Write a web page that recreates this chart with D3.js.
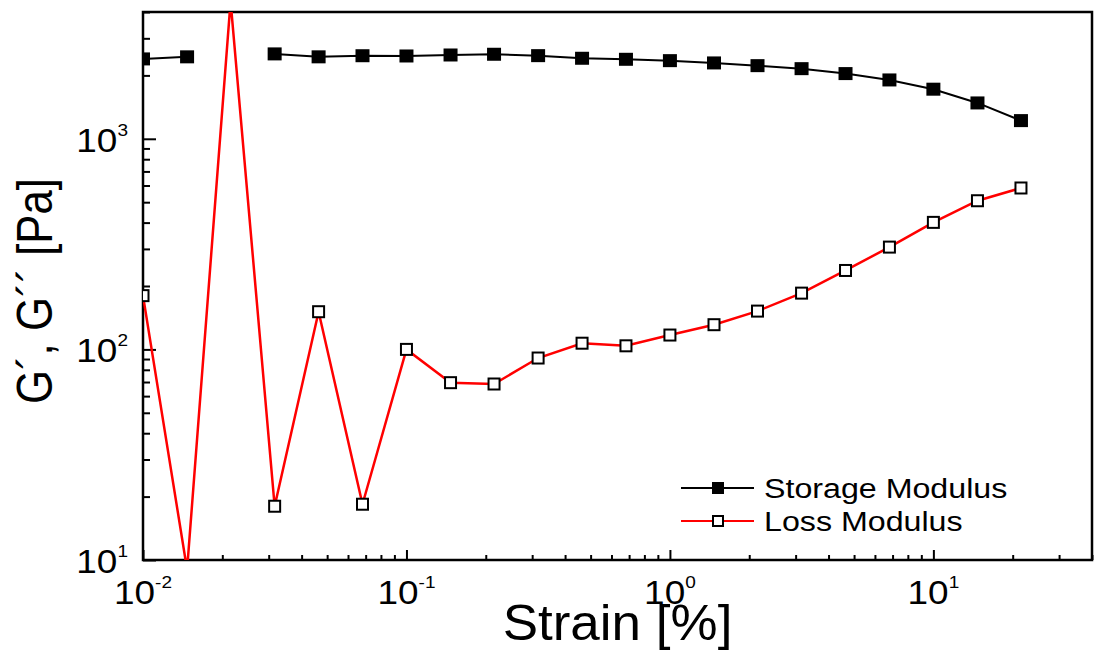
<!DOCTYPE html>
<html>
<head>
<meta charset="utf-8">
<script src="https://cdn.jsdelivr.net/npm/d3@7"></script>
<style>
  body { margin: 0; background: #fff; }
  svg { display: block; font-family: "Liberation Sans", Arial, sans-serif; }
</style>
</head>
<body>
<svg class="chart"></svg>
<script>
// strain sweep, G' and G''
var strain = [0.01, 0.0147, 0.0215, 0.0316, 0.0464, 0.0681, 0.1, 0.147, 0.215, 0.316, 0.464,
    0.681, 1, 1.47, 2.15, 3.16, 4.64, 6.81, 10, 14.7, 21.5];
var storage = [2395, 2450, null, 2530, 2450, 2480, 2473, 2500, 2520, 2482, 2412,
    2385, 2350, 2292, 2225, 2153, 2040, 1903, 1720, 1480, 1220];
var loss = [180, 9, 4500, 18.0, 151, 18.4, 100, 69.5, 68.5, 91, 107,
    104, 117, 131, 152, 185, 237, 306, 401, 508, 584];

var xMajor = [0.01, 0.1, 1, 10];
var xMinor = [0.02, 0.03, 0.04, 0.05, 0.06, 0.07, 0.08, 0.09, 0.2, 0.3, 0.4, 0.5, 0.6, 0.7, 0.8, 0.9,
    2, 3, 4, 5, 6, 7, 8, 9, 20, 30, 40];
var yMajor = [10, 100, 1000];
var yMinor = [20, 30, 40, 50, 60, 70, 80, 90, 200, 300, 400, 500, 600, 700, 800, 900, 2000, 3000, 4000];
var seriesNames = ["Storage Modulus", "Loss Modulus"];

var width = 1094, height = 653;
var pLeft = 143, pRight = 1092, pTop = 12, pBottom = 560;
var stretch = 1.12; // the original figure is a bit wider than tall

var svg = d3.select(".chart")
    .attr("width", width)
    .attr("height", height);

var x = d3.scaleLog().domain([0.01, 40]).range([pLeft, pRight]);
var y = d3.scaleLog().domain([10, 4000]).range([pBottom, pTop]);

svg.append("clipPath")
    .attr("id", "plot")
    .append("rect")
    .attr("x", pLeft).attr("y", pTop)
    .attr("width", pRight - pLeft).attr("height", pBottom - pTop);

// inward ticks, labels added by hand below
var xAxis = svg.append("g")
    .attr("transform", "translate(0," + pBottom + ")")
    .call(d3.axisBottom(x).tickValues(xMajor.concat(xMinor)).tickFormat("").tickSizeOuter(0)
        .tickSizeInner(-5));
xAxis.selectAll(".tick line")
    .attr("y2", function (d) { return xMajor.indexOf(d) >= 0 ? -10 : -5; })
    .attr("stroke-width", 2);

var yAxis = svg.append("g")
    .attr("transform", "translate(" + pLeft + ",0)")
    .call(d3.axisLeft(y).tickValues(yMajor.concat(yMinor)).tickFormat("").tickSizeOuter(0)
        .tickSizeInner(-7));
yAxis.selectAll(".tick line")
    .attr("x2", function (d) { return yMajor.indexOf(d) >= 0 ? 13 : 7; })
    .attr("stroke-width", 2);
svg.selectAll(".domain").remove();

// frame
svg.append("rect")
    .attr("x", pLeft).attr("y", pTop)
    .attr("width", pRight - pLeft).attr("height", pBottom - pTop)
    .attr("fill", "none")
    .attr("stroke", "#000")
    .attr("stroke-width", 2.5);

function power(sel, d) {
    var e = Math.round(Math.log10(d));
    sel.append("tspan").text("10");
    sel.append("tspan").attr("dy", -16).attr("font-size", 17).text(e);
}

svg.selectAll(".xlab")
    .data(xMajor)
    .enter().append("text")
    .attr("class", "xlab")
    .attr("transform", function (d) { return "translate(" + x(d) + ",604) scale(" + stretch + ",1)"; })
    .attr("text-anchor", "middle")
    .attr("font-size", 33)
    .each(function (d) { power(d3.select(this), d); });

svg.selectAll(".ylab")
    .data(yMajor)
    .enter().append("text")
    .attr("class", "ylab")
    .attr("transform", function (d) { return "translate(128," + (y(d) + 13) + ") scale(" + stretch + ",1)"; })
    .attr("text-anchor", "end")
    .attr("font-size", 33)
    .each(function (d) { power(d3.select(this), d); });

svg.append("text")
    .attr("transform", "translate(" + (pLeft + pRight) / 2 + ",640) scale(1.06,1)")
    .attr("text-anchor", "middle")
    .attr("font-size", 50)
    .text("Strain [%]");

svg.append("text")
    .attr("transform", "translate(52,291) rotate(-90) scale(0.875,1)")
    .attr("text-anchor", "middle")
    .attr("font-size", 50)
    .text("G\u00b4, G\u00b4\u00b4 [Pa]");

var plot = svg.append("g").attr("clip-path", "url(#plot)");

function pts(vals) {
    return strain.map(function (s, i) { return { x: s, y: vals[i] }; });
}

var line = d3.line()
    .defined(function (d) { return d.y != null; })
    .x(function (d) { return x(d.x); })
    .y(function (d) { return y(d.y); });

plot.append("path")
    .datum(pts(storage))
    .attr("d", line)
    .attr("fill", "none")
    .attr("stroke", "#000")
    .attr("stroke-width", 2);

plot.append("path")
    .datum(pts(loss))
    .attr("d", line)
    .attr("fill", "none")
    .attr("stroke", "#ff0000")
    .attr("stroke-width", 2.5);

plot.selectAll(".sq")
    .data(pts(storage).filter(function (d) { return d.y != null; }))
    .enter().append("rect")
    .attr("class", "sq")
    .attr("x", function (d) { return x(d.x) - 7; })
    .attr("y", function (d) { return y(d.y) - 6.5; })
    .attr("width", 14).attr("height", 13)
    .attr("fill", "#000");

plot.selectAll(".osq")
    .data(pts(loss))
    .enter().append("rect")
    .attr("class", "osq")
    .attr("x", function (d) { return x(d.x) - 5.5; })
    .attr("y", function (d) { return y(d.y) - 5.5; })
    .attr("width", 11).attr("height", 11)
    .attr("fill", "#fff")
    .attr("stroke", "#000")
    .attr("stroke-width", 2);

// legend
var legend = svg.selectAll(".legend")
    .data(seriesNames)
    .enter().append("g")
    .attr("class", "legend")
    .attr("transform", function (d, i) { return "translate(681," + (488 + i * 33) + ")"; });

legend.append("line")
    .attr("x1", 0).attr("x2", 73)
    .attr("stroke", function (d, i) { return i == 0 ? "#000" : "#ff0000"; })
    .attr("stroke-width", 2);

legend.append("rect")
    .attr("x", function (d, i) { return i == 0 ? 31 : 32; })
    .attr("y", function (d, i) { return i == 0 ? -6 : -5; })
    .attr("width", function (d, i) { return i == 0 ? 12 : 10; })
    .attr("height", function (d, i) { return i == 0 ? 12 : 10; })
    .attr("fill", function (d, i) { return i == 0 ? "#000" : "#fff"; })
    .attr("stroke", "#000")
    .attr("stroke-width", function (d, i) { return i == 0 ? 0 : 2; });

legend.append("text")
    .attr("transform", "translate(83,10) scale(1.15,1)")
    .attr("font-size", 28)
    .text(function (d) { return d; });
</script>
</body>
</html>
